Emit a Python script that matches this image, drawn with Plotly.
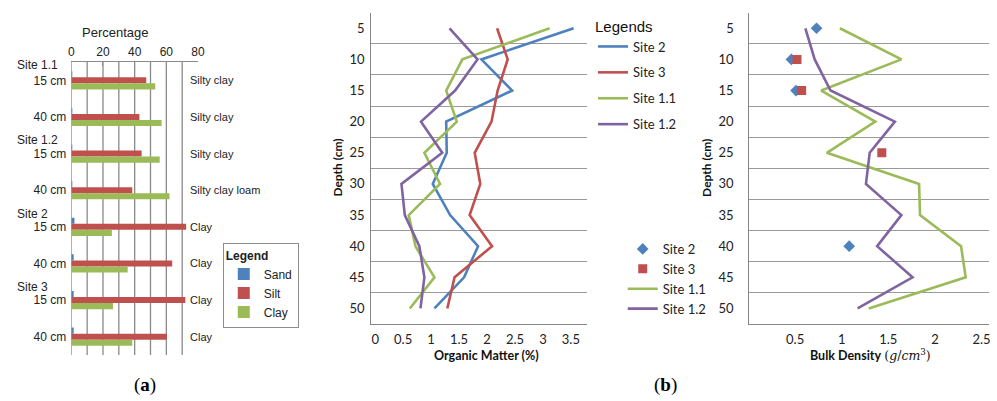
import plotly.graph_objects as go

W, H = 997, 401

def fx(px):
    return px / W

def fy(py):
    return 1 - py / H

# ---------------- (a) particle size fractions ----------------
row_ticks = ["15 cm", "40 cm", "15 cm", "40 cm", "15 cm", "40 cm", "15 cm", "40 cm"]
site_names = ["Site 1.1", "Site 1.2", "Site 2", "Site 3"]
sand = [0.6, 0.6, 0.6, 0.6, 2.0, 1.5, 1.5, 1.5]
silt = [47.3, 43.0, 44.4, 38.5, 72.5, 63.7, 72.0, 60.4]
clay = [53.0, 57.0, 55.8, 62.0, 25.6, 35.6, 26.3, 38.5]
texture = ["Silty clay", "Silty clay", "Silty clay", "Silty clay loam",
           "Clay", "Clay", "Clay", "Clay"]
pct_ticks = [0, 20, 40, 60, 80]

# ---------------- (b) depth profiles ----------------
depths = [5, 10, 15, 20, 25, 30, 35, 40, 45, 50]
om_site2 = [3.55, 1.90, 2.45, 1.27, 1.28, 1.03, 1.34, 1.84, 1.59, 1.06]
om_site3 = [2.18, 2.37, 2.19, 2.08, 1.78, 1.88, 1.69, 2.09, 1.42, 1.29]
om_site11 = [3.12, 1.56, 1.27, 1.46, 0.88, 1.16, 0.60, 0.72, 1.06, 0.62]
om_site12 = [1.33, 1.83, 1.43, 0.82, 1.20, 0.47, 0.53, 0.79, 0.88, 0.81]

bd_site2_depth = [5, 10, 15, 40]
bd_site2 = [0.73, 0.46, 0.51, 1.08]
bd_site3_depth = [10, 15, 25]
bd_site3 = [0.52, 0.57, 1.43]
bd_site11 = [0.98, 1.64, 0.78, 1.36, 0.84, 1.83, 1.84, 2.28, 2.33, 1.29]
bd_site12 = [0.61, 0.71, 0.88, 1.57, 1.30, 1.26, 1.64, 1.38, 1.76, 1.17]

BLUE, RED, GREEN, PURPLE = "#4F81BD", "#C0504D", "#9BBB59", "#8064A2"
GRID = "#9a9a9a"
AXIS = "#868686"
ARIAL = "Liberation Sans"
CAL = "Lato"

fig = go.Figure()

rows = list(range(len(row_ticks)))
for name, vals, col in [("Sand", sand, BLUE), ("Silt", silt, RED), ("Clay", clay, GREEN)]:
    fig.add_trace(go.Bar(y=rows, x=vals, orientation="h", name=name,
                         marker=dict(color=col, line=dict(width=0)),
                         xaxis="x", yaxis="y", legend="legend"))

om_series = [("Site 2", om_site2, BLUE), ("Site 3", om_site3, RED),
             ("Site 1.1", om_site11, GREEN), ("Site 1.2", om_site12, PURPLE)]
for name, vals, col in om_series:
    fig.add_trace(go.Scatter(x=vals, y=depths, mode="lines", name=name,
                             line=dict(color=col, width=2.6),
                             xaxis="x2", yaxis="y2", legend="legend2",
                             legendgroup="om" + name))

fig.add_trace(go.Scatter(x=bd_site2, y=bd_site2_depth, mode="markers", name="Site 2",
                         marker=dict(symbol="diamond", color=BLUE, size=9),
                         xaxis="x3", yaxis="y3", legend="legend3"))
fig.add_trace(go.Scatter(x=bd_site3, y=bd_site3_depth, mode="markers", name="Site 3",
                         marker=dict(symbol="square", color=RED, size=9),
                         xaxis="x3", yaxis="y3", legend="legend3"))
fig.add_trace(go.Scatter(x=bd_site11, y=depths, mode="lines", name="Site 1.1",
                         line=dict(color=GREEN, width=2.6),
                         xaxis="x3", yaxis="y3", legend="legend3"))
fig.add_trace(go.Scatter(x=bd_site12, y=depths, mode="lines", name="Site 1.2",
                         line=dict(color=PURPLE, width=2.6),
                         xaxis="x3", yaxis="y3", legend="legend3"))

# vertical gridlines of the bar panel (0..70)
shapes = []
for v in range(0, 80, 10):
    shapes.append(dict(type="line", xref="x", yref="y domain", x0=v, x1=v, y0=0, y1=1,
                       line=dict(color="#8a8a8a", width=1.3), layer="below"))

def note(text, px, py, size, family, color="#111", angle=0, xanchor="center"):
    return dict(text=text, x=fx(px), y=fy(py), xref="paper", yref="paper",
                xanchor=xanchor, yanchor="middle", textangle=angle, showarrow=False,
                font=dict(family=family, size=size, color=color))

annotations = []
# site headers above the first row of each site
for i, s in enumerate(site_names):
    annotations.append(dict(text=s, x=fx(12), xanchor="left", xref="paper",
                            y=2 * i - 0.5, yref="y", yanchor="middle", yshift=-3 if i == 0 else -5,
                            showarrow=False, font=dict(family=ARIAL, size=12, color="#222")))
# texture class labels
for i, t in enumerate(texture):
    annotations.append(dict(text=t, x=fx(187), xanchor="left", xref="paper",
                            y=i, yref="y", yanchor="middle", showarrow=False,
                            font=dict(family=ARIAL, size=11, color="#222")))
annotations += [
    note("Percentage", 114, 32, 13, ARIAL, "#222"),
    note("<b>Depth (cm)</b>", 337, 168, 12, CAL, angle=-90),
    note("<b>Depth (cm)</b>", 710, 168, 12, CAL, angle=-90),
    note("<b>Organic Matter (%)</b>", 488, 355, 12.5, CAL),
    note("<b>Bulk Density</b> <span style='font-family:DejaVu Serif'>(<i>g</i>/<i>cm</i><sup>3</sup>)</span>",
         876, 355, 12.5, CAL),
    note("(<b>a</b>)", 143, 385, 19, "Liberation Serif", "#000"),
    note("(<b>b</b>)", 669, 385, 19, "Liberation Serif", "#000"),
]

boundaries = [d - 2.5 for d in depths]
tick_font_b = dict(family=CAL, size=13, color="#222")

def depth_axis(domain_anchor, standoff):
    return dict(domain=[fy(324), fy(12.7)], anchor=domain_anchor, range=[52.5, 2.5],
                tickvals=depths, showgrid=False, zeroline=False,
                showline=True, linecolor=AXIS, linewidth=1.3, ticks="",
                ticklabelstandoff=standoff, tickfont=tick_font_b,
                minor=dict(tickvals=boundaries, showgrid=True, gridcolor=GRID, gridwidth=1.3))

fig.update_layout(
    width=W, height=H, margin=dict(l=0, r=0, t=0, b=0),
    paper_bgcolor="white", plot_bgcolor="white",
    barmode="group", bargap=0.5, bargroupgap=0,
    shapes=shapes, annotations=annotations,
    xaxis=dict(domain=[fx(69), fx(197)], anchor="y", side="top", range=[0, 80],
               tickvals=pct_ticks, showgrid=False, zeroline=False,
               showline=True, linecolor="#8a8a8a", linewidth=1.3,
               ticks="inside", ticklen=4, tickcolor="#8a8a8a",
               tickfont=dict(family=ARIAL, size=12, color="#222")),
    yaxis=dict(domain=[fy(355), fy(62)], anchor="x", range=[7.5, -0.5],
               tickvals=rows, ticktext=row_ticks, showgrid=False, zeroline=False,
               showline=False, ticks="", ticklabelstandoff=4,
               tickfont=dict(family=ARIAL, size=12, color="#222")),
    xaxis2=dict(domain=[fx(372), fx(590)], anchor="y2", range=[-0.07, 3.79],
                dtick=0.5, tick0=0, showgrid=False, zeroline=False,
                showline=True, linecolor=AXIS, linewidth=1.3, ticks="",
                ticklabelstandoff=3, tickfont=tick_font_b),
    yaxis2=depth_axis("x2", 3),
    xaxis3=dict(domain=[fx(754), fx(996)], anchor="y3", range=[0.01, 2.58],
                dtick=0.5, tick0=0, showgrid=False, zeroline=False,
                showline=True, linecolor=AXIS, linewidth=1.3, ticks="",
                ticklabelstandoff=3, tickfont=tick_font_b),
    yaxis3=depth_axis("x3", 12),
    legend=dict(x=fx(222), y=fy(243), xanchor="left", yanchor="top",
                bgcolor="white", bordercolor="#8c8c8c", borderwidth=1,
                title=dict(text="<b>Legend</b>", font=dict(family=ARIAL, size=12, color="#222"), side="top"),
                font=dict(family=ARIAL, size=12, color="#222"),
                itemwidth=30, tracegroupgap=0),
    legend2=dict(x=fx(596), y=fy(12), xanchor="left", yanchor="top",
                 bgcolor="rgba(0,0,0,0)",
                 title=dict(text="Legends", font=dict(family=ARIAL, size=15, color="#111"), side="top"),
                 font=dict(family=CAL, size=13, color="#222"),
                 itemwidth=30, tracegroupgap=6, traceorder="grouped"),
    legend3=dict(x=fx(626), y=fy(234), xanchor="left", yanchor="top",
                 bgcolor="rgba(0,0,0,0)",
                 font=dict(family=CAL, size=13, color="#222"),
                 itemwidth=30),
)

fig.write_html("out.html")
